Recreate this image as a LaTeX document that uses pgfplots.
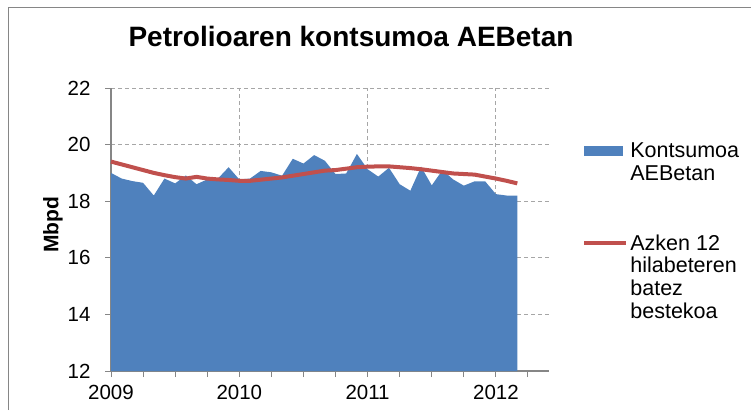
\documentclass[border=0pt]{standalone}
\usepackage{pgfplots}
\pgfplotsset{compat=1.18}
\usepackage{fontspec}
\setmainfont{Liberation Sans}
\definecolor{areablue}{HTML}{4F81BD}
\definecolor{linered}{HTML}{C0504D}
\definecolor{axgray}{HTML}{868686}
\definecolor{gridgray}{HTML}{A6A6A6}
\begin{document}
\begin{tikzpicture}[x=1pt,y=1pt]
\useasboundingbox (0,0) rectangle (751,410);
\draw[axgray, line width=1pt] (8,0) -- (8,402) -- (751,402);
\node[anchor=base, font=\fontsize{28}{32}\selectfont\bfseries] at (351,363) {Petrolioaren kontsumoa AEBetan};
\begin{axis}[
  at={(111pt,39pt)}, anchor=south west,
  scale only axis, width=437.5pt, height=283pt,
  xmin=2009, xmax=2012.41, ymin=12, ymax=22,
  axis x line=bottom, axis y line=left,
  axis line style={draw=axgray, line width=1.2pt, -},
  xtick={2009,2010,2011,2012}, xticklabels={2009,2010,2011,2012},
  minor xtick={2009.25,2009.5,2009.75,2010.25,2010.5,2010.75,2011.25,2011.5,2011.75,2012.25},
  ytick={12,14,16,18,20,22},
  tick align=outside, major tick length=6pt, minor tick length=6pt,
  tick style={axgray, line width=1pt},
  xmajorgrids, ymajorgrids,
  grid style={gridgray, line width=1pt, dash pattern=on 4pt off 3pt},
  ticklabel style={font=\fontsize{20.5}{22}\selectfont},
  xticklabel style={yshift=-5pt},
  yticklabel style={xshift=-11pt},
  /pgf/number format/assume math mode=true,
  ylabel={Mbpd},
  ylabel style={font=\fontsize{21}{22}\selectfont\bfseries, at={(axis description cs:-0.1326,0.516)}, anchor=center},
  legend cell align=left,
  legend style={at={(rel axis cs:1.077,0.82)}, anchor=north west, draw=none, fill=none,
    font=\fontsize{21.5}{22.7}\selectfont, row sep=71pt, inner xsep=0pt},
  clip=false,
]
\addplot[fill=areablue, draw=none, area legend,
  legend image code/.code={\fill[areablue] (0pt,-5pt) rectangle (39pt,5pt);}]
coordinates {
(2009.0000,19.00) (2009.0833,18.80) (2009.1667,18.71) (2009.2500,18.65)
(2009.3333,18.20) (2009.4167,18.80) (2009.5000,18.63) (2009.5833,18.91)
(2009.6667,18.60) (2009.7500,18.77) (2009.8333,18.80) (2009.9167,19.20)
(2010.0000,18.77) (2010.0833,18.80) (2010.1667,19.07) (2010.2500,19.02)
(2010.3333,18.90) (2010.4167,19.50) (2010.5000,19.33) (2010.5833,19.63)
(2010.6667,19.43) (2010.7500,18.96) (2010.8333,18.98) (2010.9167,19.67)
(2011.0000,19.13) (2011.0833,18.87) (2011.1667,19.18) (2011.2500,18.60)
(2011.3333,18.37) (2011.4167,19.22) (2011.5000,18.56) (2011.5833,19.10)
(2011.6667,18.77) (2011.7500,18.55) (2011.8333,18.70) (2011.9167,18.70)
(2012.0000,18.25) (2012.0833,18.20) (2012.1667,18.20)
} \closedcycle;
\addlegendentry{\parbox[t]{120pt}{Kontsumoa\\AEBetan}}
\addplot[linered, line width=4pt, line join=round,
  legend image code/.code={\draw[linered, line width=4pt] (0pt,0pt) -- (42pt,0pt);}]
coordinates {
(2009.0000,19.40) (2009.0833,19.30) (2009.1667,19.20) (2009.2500,19.10)
(2009.3333,19.00) (2009.4167,18.92) (2009.5000,18.85) (2009.5833,18.80)
(2009.6667,18.86) (2009.7500,18.80) (2009.8333,18.77) (2009.9167,18.75)
(2010.0000,18.72) (2010.0833,18.72) (2010.1667,18.76) (2010.2500,18.80)
(2010.3333,18.84) (2010.4167,18.90) (2010.5000,18.96) (2010.5833,19.02)
(2010.6667,19.08) (2010.7500,19.10) (2010.8333,19.15) (2010.9167,19.20)
(2011.0000,19.22) (2011.0833,19.23) (2011.1667,19.23) (2011.2500,19.20)
(2011.3333,19.17) (2011.4167,19.13) (2011.5000,19.08) (2011.5833,19.03)
(2011.6667,18.98) (2011.7500,18.96) (2011.8333,18.94) (2011.9167,18.87)
(2012.0000,18.80) (2012.0833,18.72) (2012.1667,18.63)
};
\addlegendentry{\parbox[t]{120pt}{Azken 12\\hilabeteren\\batez\\bestekoa}}
\end{axis}
\end{tikzpicture}
\end{document}
